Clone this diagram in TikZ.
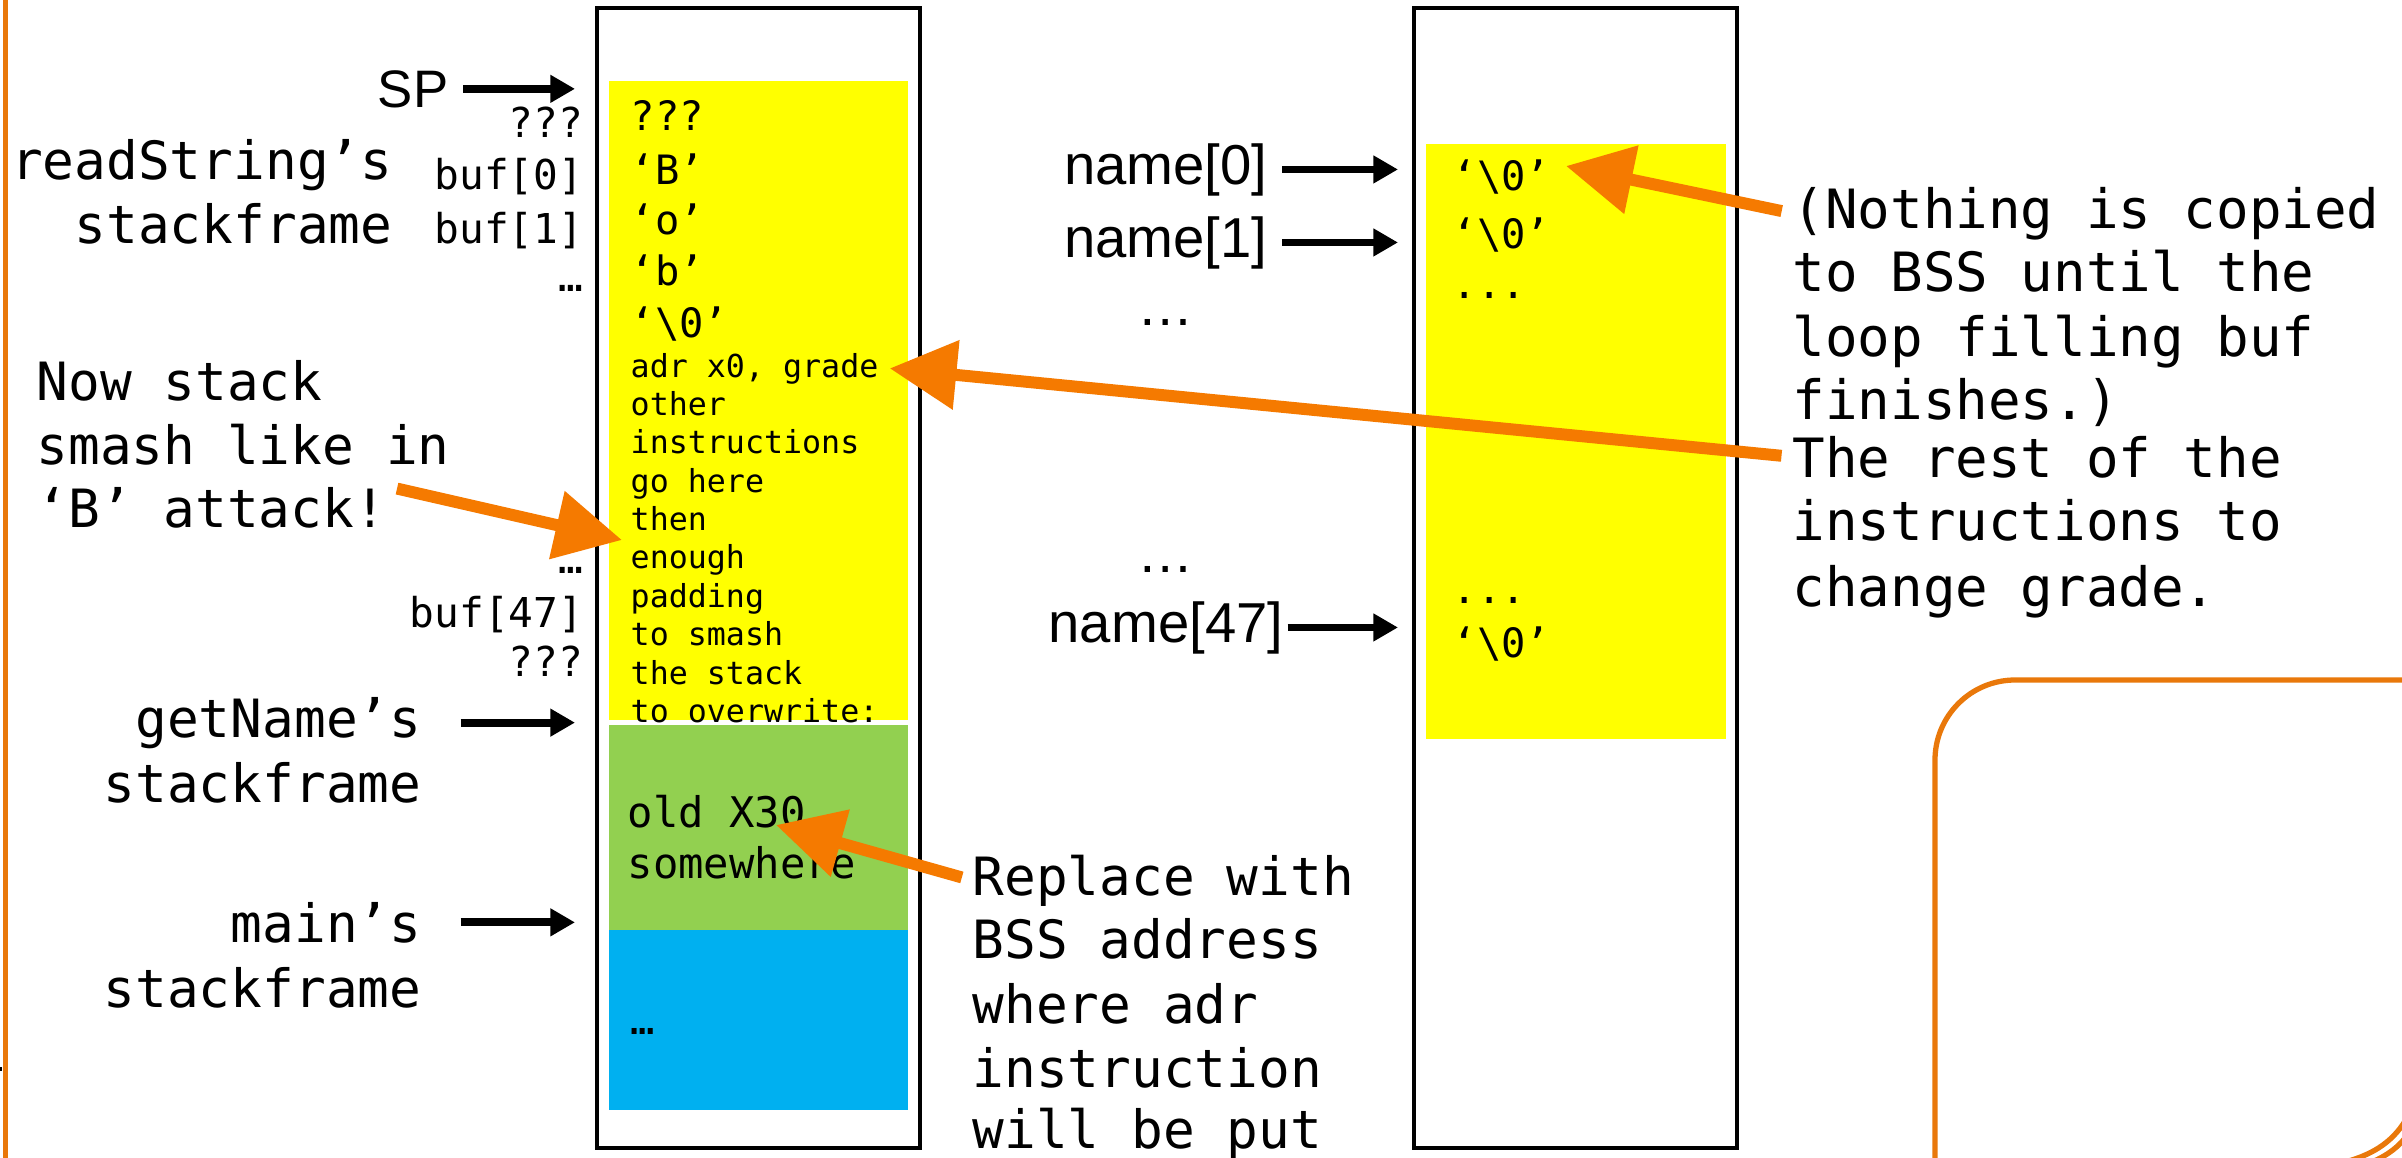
\documentclass[tikz,border=0pt]{standalone}
\usepackage{fontspec}
\setmainfont{Liberation Sans}
\setmonofont{DejaVu Sans Mono}
\usetikzlibrary{arrows.meta}

\definecolor{stackyellow}{RGB}{255,255,0}
\definecolor{framegreen}{RGB}{146,208,80}
\definecolor{frameblue}{RGB}{0,176,240}
\definecolor{calloutorange}{RGB}{245,122,0}
\definecolor{slideorange}{RGB}{233,120,10}

\newcommand{\nulchar}{‘\textbackslash0’}
\newcommand{\dotsmono}{...}

\begin{document}
\begin{tikzpicture}[x=0.01cm, y=-0.01cm,
  lbl/.style={inner sep=0pt, font=\fontsize{15}{18}\selectfont\ttfamily},
  note/.style={inner sep=0pt, anchor=base west, font=\fontsize{15.4}{18}\selectfont\ttfamily},
  idx/.style={inner sep=0pt, anchor=base east, font=\fontsize{11.7}{14}\selectfont\ttfamily},
  cell/.style={inner sep=0pt, anchor=base west, font=\fontsize{11.5}{14}\selectfont\ttfamily},
  instr/.style={inner sep=0pt, anchor=base west, font=\fontsize{9}{11}\selectfont\ttfamily},
  arrname/.style={inner sep=0pt, font=\fontsize{16}{19}\selectfont},
  ptr/.style={line width=2.2pt, -{Triangle[length=7pt,width=7.5pt]}, shorten <=4pt},
  callout/.style={draw=calloutorange, line width=3.4pt, -{Triangle[length=19pt,width=19pt]}, shorten <=3pt}]
\useasboundingbox (0,0) rectangle (2402,1157);
\clip (0,0) rectangle (2402,1157);
\fill[white] (0,0) rectangle (2402,1157);

% slide frame bits
\draw[slideorange, line width=1.5pt] (5.5,-10) -- (5.5,1170);
\draw[line width=1.4pt] (0,1069) -- (2,1069);
\draw[slideorange, line width=1.5pt, rounded corners=0.8cm] (2430,680) -- (1935,680) -- (1935,1180);
\draw[slideorange, line width=1.5pt] (2345,1162) .. controls (2375,1154) and (2395,1140) .. (2408,1116);
\draw[slideorange, line width=1.5pt] (2372,1162) .. controls (2388,1155) and (2400,1146) .. (2408,1134);

% stack
\fill[stackyellow] (609,81) rectangle (908,720);
\fill[framegreen] (609,725) rectangle (908,930);
\fill[frameblue] (609,930) rectangle (908,1110);
\draw[line width=1.3pt] (597,8) rectangle (920,1148);
\coordinate (stackin) at (575,0);

\foreach \t/\y [count=\i] in {???/130, ‘B’/184, ‘o’/234, ‘b’/285, \nulchar/337}
  \node[cell] (cell\i) at (630,\y) {\t};
\foreach \t/\y [count=\i] in {{adr x0, grade}/377, other/415, instructions/453, {go here}/492, then/530,
    enough/568, padding/607, {to smash}/645, {the stack}/684, {to overwrite:}/722}
  \node[instr] (ins\i) at (630,\y) {\t};
\node[inner sep=0pt, anchor=base west, font=\fontsize{12}{14}\selectfont\ttfamily] (x30) at (627,827) {old X30};
\node[inner sep=0pt, anchor=base west, font=\fontsize{12}{14}\selectfont\ttfamily] (somew) at (627,878) {somewhere};
\node[cell] (mainrest) at (630,1034) {…};

\foreach \t/\y [count=\i] in {???/137, buf[0]/189, buf[1]/243, …/291, …/573, buf[47]/627, ???/676}
  \node[idx] (idx\i) at (584,\y) {\t};

\node[arrname, font=\fontsize{15}{18}\selectfont, anchor=base east] (sp) at (449,107) {SP};
\draw[ptr] (sp.east) -- (sp.east -| stackin);

\node[lbl, anchor=base east] (rs1) at (393,179) {readString’s};
\node[lbl, anchor=base east] (rs2) at (393,243) {stackframe};
\node[lbl, anchor=base east] (gn1) at (422,737) {getName’s};
\node[lbl, anchor=base east] (gn2) at (422,802) {stackframe};
\node[lbl, anchor=base east] (mn1) at (422,942) {main’s};
\node[lbl, anchor=base east] (mn2) at (422,1007) {stackframe};
\draw[ptr, shorten <=11pt] (gn1.east) -- (gn1.east -| stackin);
\draw[ptr, shorten <=11pt] (mn1.east) -- (mn1.east -| stackin);

\foreach \t/\y [count=\i] in {{Now stack}/400, {smash like in}/464, {‘B’ attack!}/527}
  \node[lbl, anchor=base west] (now\i) at (36,\y) {\t};

% BSS
\fill[stackyellow] (1426,144) rectangle (1726,739);
\draw[line width=1.3pt] (1414,8) rectangle (1737,1148);
\coordinate (bssin) at (1398,0);

\foreach \t/\y [count=\i] in {\nulchar/190, \nulchar/248, \dotsmono/298, \dotsmono/603, \nulchar/657}
  \node[cell] (bss\i) at (1452,\y) {\t};

\node[arrname, anchor=base east] (n0) at (1268,184) {name[0]};
\node[arrname, anchor=base east] (n1) at (1268,257) {name[1]};
\node[arrname, anchor=base] (ndots1) at (1166,325) {…};
\node[arrname, anchor=base] (ndots2) at (1166,572) {…};
\node[arrname, anchor=base east] (n47) at (1284,642) {name[47]};
\draw[ptr] (n0.east) -- (n0.east -| bssin);
\draw[ptr] (n1.east) -- (n1.east -| bssin);
\draw[ptr, shorten <=1pt] (n47.east) -- (n47.east -| bssin);

% notes
\node[note] (why1) at (1792,228) {(Nothing is copied};
\node[note] (why2) at (1792,291) {to BSS until the};
\node[note] (why3) at (1792,356) {loop filling buf};
\node[note] (why4) at (1792,419) {finishes.)};
\foreach \t/\y [count=\i] in {{The rest of the}/477, {instructions to}/540, {change grade.}/606}
  \node[note] (rest\i) at (1792,\y) {\t};
\foreach \t/\y [count=\i] in {{Replace with}/895, {BSS address}/958, {where adr}/1023, instruction/1087, {will be put}/1148}
  \node[lbl, anchor=base west] (repl\i) at (972,\y) {\t};

\coordinate (smashtip) at (622,540);
\coordinate (nultip) at (1566,166);
\coordinate (x30tip) at (776,825);
\draw[callout] (now3.north east) -- (smashtip);
\draw[callout] (rest1.west) -- ([xshift=3pt]ins1.east);
\draw[callout] (why1.west) -- (nultip);
\draw[callout] (repl1.west) -- (x30tip);
\end{tikzpicture}
\end{document}
